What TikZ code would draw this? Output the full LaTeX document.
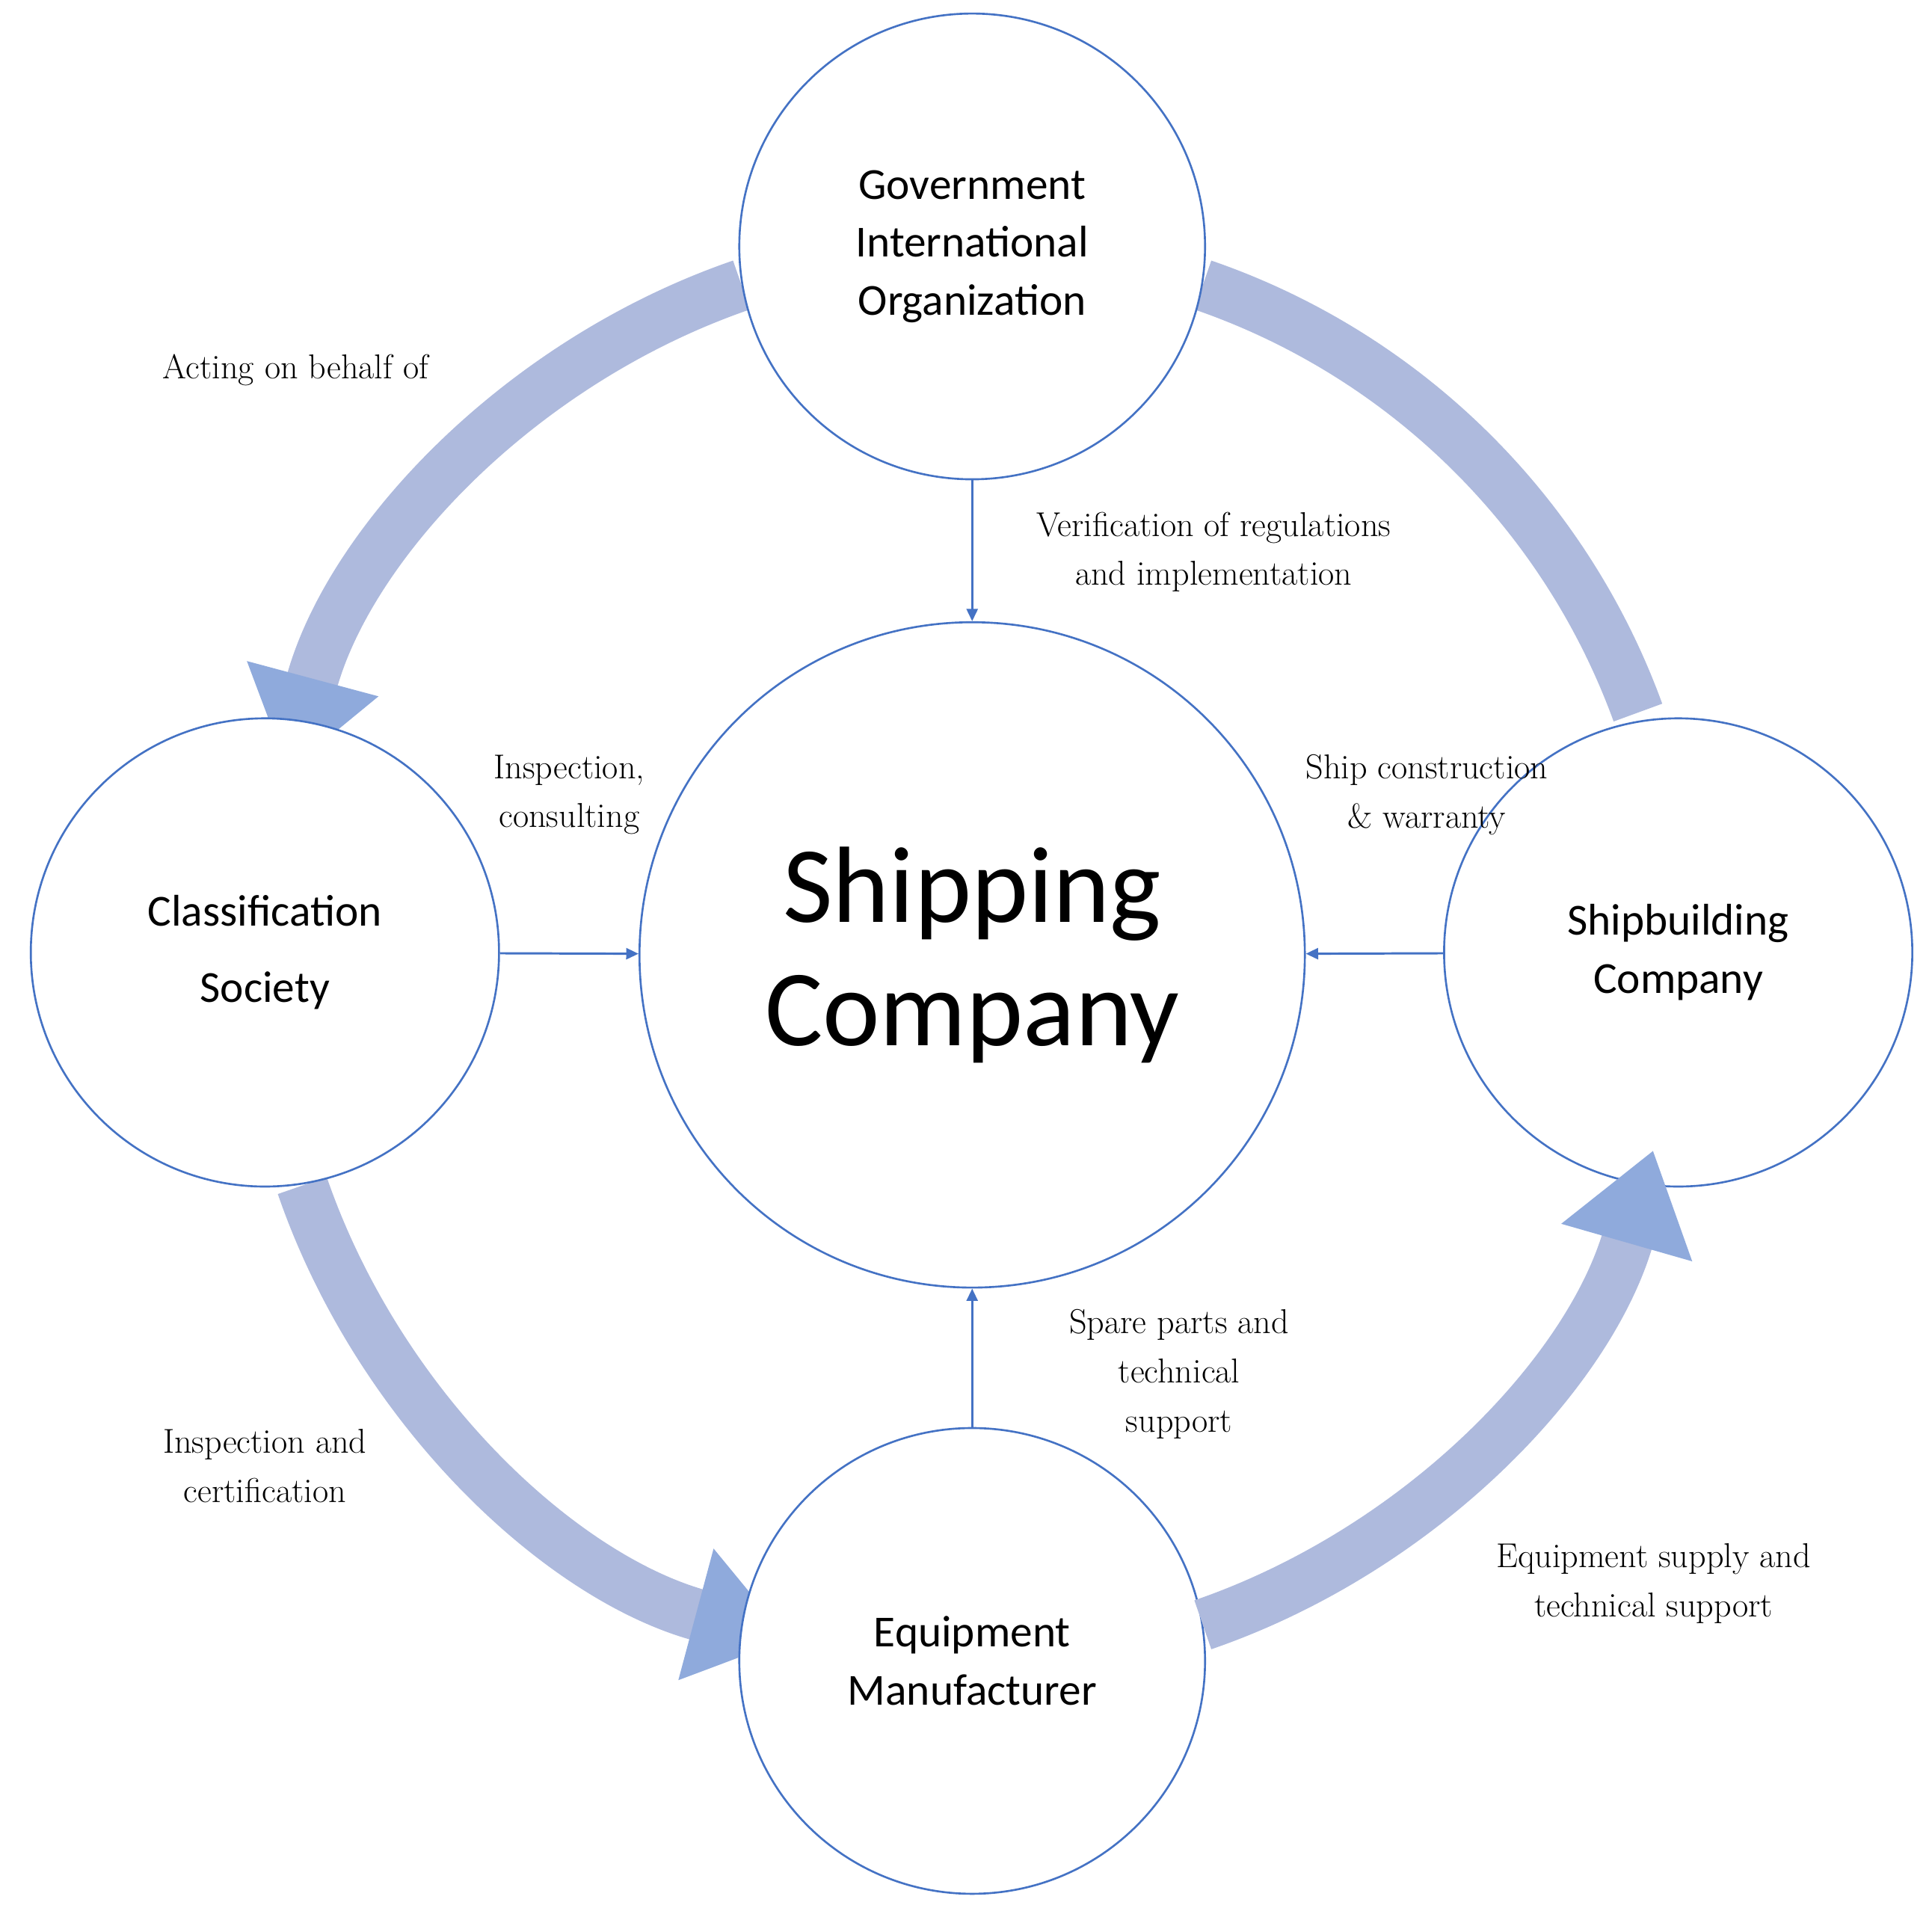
\documentclass[tikz,border=0pt]{standalone}
\usepackage{fontspec}
\newfontfamily\carl{Carlito}
\usetikzlibrary{arrows.meta,calc}
\definecolor{ringc}{HTML}{AEBADD}
\definecolor{tipc}{HTML}{8FAADC}
\definecolor{edgec}{HTML}{4472C4}
\begin{document}
\begin{tikzpicture}[x=1pt,y=1pt,
  ent/.style={circle,draw=edgec,line width=1.6pt,fill=white,align=center,font=\carl\fontsize{36}{47}\selectfont,inner sep=0pt},
  ring/.style={draw=ringc,line width=42pt},
  ringtip/.style={ring,-{Triangle[width=105pt,length=78pt,fill=tipc,color=tipc]}},
  thin/.style={draw=edgec,line width=1.8pt,-{Triangle[width=9pt,length=10pt]}},
  lab/.style={align=center,font=\fontsize{28}{40}\selectfont}]
\useasboundingbox (0,0) rectangle (1568,-1558);
\coordinate (C) at (789,-775);
% rings
\draw[ring] ($(C)+(71:575)$) arc[start angle=71,end angle=20,radius=575];
\draw[ringtip] ($(C)+(109:575)$) arc[start angle=109,end angle=165,radius=575];
\draw[ringtip] ($(C)+(199:575)$) arc[start angle=199,end angle=255,radius=575];
% nodes
\node[ent,minimum size=540pt,font=\carl\fontsize{88}{100}\selectfont] (ship) at (789,-775) {Shipping\\Company};
\node[ent,minimum size=378pt] (gov) at (789,-200) {Government\\International\\Organization};
\node[ent,minimum size=380pt,font=\carl\fontsize{36}{62}\selectfont] (cls) at (215,-773) {Classification\\Society};
\node[ent,minimum size=380pt] (sb) at (1362,-773) {Shipbuilding\\Company};
\node[ent,minimum size=378pt] (eq) at (789,-1348) {Equipment\\Manufacturer};
\draw[ringtip] ($(C)+(289:575)$) arc[start angle=289,end angle=344,radius=575];
% thin arrows
\draw[thin] (gov) -- (ship);
\draw[thin] (cls) -- (ship);
\draw[thin] (sb) -- (ship);
\draw[thin] (eq) -- (ship);
% labels
\node[lab] (l1) at (240,-300) {Acting on behalf of};
\node[lab] (l2) at (985,-448) {Verification of regulations\\and implementation};
\node[lab] (l3) at (462,-645) {Inspection,\\consulting};
\node[lab] (l4) at (1158,-645) {Ship construction\\\& warranty};
\node[lab] (l5) at (957,-1115) {Spare parts and\\technical\\support};
\node[lab] (l6) at (215,-1190) {Inspection and\\certification};
\node[lab] (l7) at (1342,-1285) {Equipment supply and\\technical support};
\end{tikzpicture}
\end{document}
